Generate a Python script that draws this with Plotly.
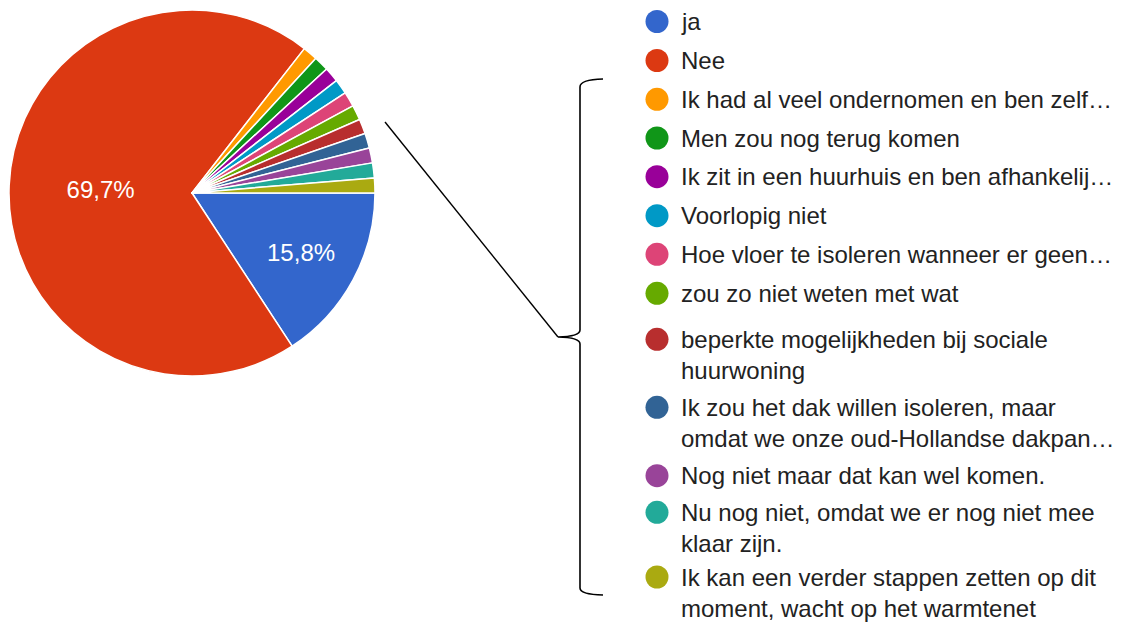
import plotly.graph_objects as go

W, H = 1134, 623

labels = [
    "ja",
    "Nee",
    "Ik had al veel ondernomen en ben zelf…",
    "Men zou nog terug komen",
    "Ik zit in een huurhuis en ben afhankelij…",
    "Voorlopig niet",
    "Hoe vloer te isoleren wanneer er geen…",
    "zou zo niet weten met wat",
    "beperkte mogelijkheden bij sociale\nhuurwoning",
    "Ik zou het dak willen isoleren, maar\nomdat we onze oud-Hollandse dakpan…",
    "Nog niet maar dat kan wel komen.",
    "Nu nog niet, omdat we er nog niet mee\nklaar zijn.",
    "Ik kan een verder stappen zetten op dit\nmoment, wacht op het warmtenet",
]
counts = [12, 53, 1, 1, 1, 1, 1, 1, 1, 1, 1, 1, 1]
slice_text = ["15,8%", "69,7%", "", "", "", "", "", "", "", "", "", "", ""]
colors = [
    "#3366cc", "#dc3912", "#ff9900", "#109618", "#990099", "#0099c6",
    "#dd4477", "#66aa00", "#b82e2e", "#316395", "#994499", "#22aa99", "#aaaa11",
]

FONT = "Liberation Sans, Arial, sans-serif"

# layout helpers (pixel -> paper)
def px(x):
    return x / W

def py(y):
    return 1 - y / H

legend_rows_y = [21.5, 60.5, 99.3, 138, 176.7, 215.7, 254.3, 293.3,
                 339.3, 407.3, 475.7, 512.3, 577]
LINE_STEP = 31
MARK_X = 657
TEXT_X = 679
MARK_R = 11.5

fig = go.Figure()
fig.add_trace(go.Pie(
    labels=labels,
    values=counts,
    text=slice_text,
    textinfo="text",
    textposition="inside",
    insidetextorientation="horizontal",
    textfont=dict(family=FONT, size=24, color="white"),
    marker=dict(colors=colors, line=dict(color="white", width=1.5)),
    sort=False,
    direction="clockwise",
    rotation=90,
    showlegend=False,
    domain=dict(x=[px(9), px(375)], y=[py(376), py(10)]),
    hoverinfo="label+percent",
))

shapes = []
annotations = []
for lab, col, y0 in zip(labels, colors, legend_rows_y):
    shapes.append(dict(
        type="circle", xref="paper", yref="paper",
        x0=px(MARK_X - MARK_R), x1=px(MARK_X + MARK_R),
        y0=py(y0 + MARK_R), y1=py(y0 - MARK_R),
        fillcolor=col, line=dict(width=0),
    ))
    for k, line in enumerate(lab.split("\n")):
        annotations.append(dict(
            text=line, xref="paper", yref="paper",
            x=px(TEXT_X), y=py(y0 + k * LINE_STEP),
            xanchor="left", yanchor="middle", showarrow=False,
            font=dict(family=FONT, size=24, color="#222222"),
        ))

# bracket
def P(x, y):
    return f"{px(x):.5f},{py(y):.5f}"

bracket = (
    f"M {P(603,79)} Q {P(580,79.5)} {P(580,87)} L {P(580,330)} "
    f"Q {P(580,336.5)} {P(558,337)} Q {P(580,337.5)} {P(580,344)} "
    f"L {P(580,588)} Q {P(580,594.5)} {P(603,595)}"
)
shapes.append(dict(type="path", xref="paper", yref="paper", path=bracket,
                   line=dict(color="black", width=1.6)))
shapes.append(dict(type="line", xref="paper", yref="paper",
                   x0=px(385), y0=py(122), x1=px(558), y1=py(337),
                   line=dict(color="black", width=1.4)))

fig.update_layout(
    width=W, height=H,
    margin=dict(l=0, r=0, t=0, b=0),
    paper_bgcolor="white", plot_bgcolor="white",
    shapes=shapes, annotations=annotations,
    font=dict(family=FONT),
)

fig.write_html(
    "out.html",
    config={"displayModeBar": False},
    post_script="document.body.style.margin='0';document.body.style.overflow='hidden';",
)
